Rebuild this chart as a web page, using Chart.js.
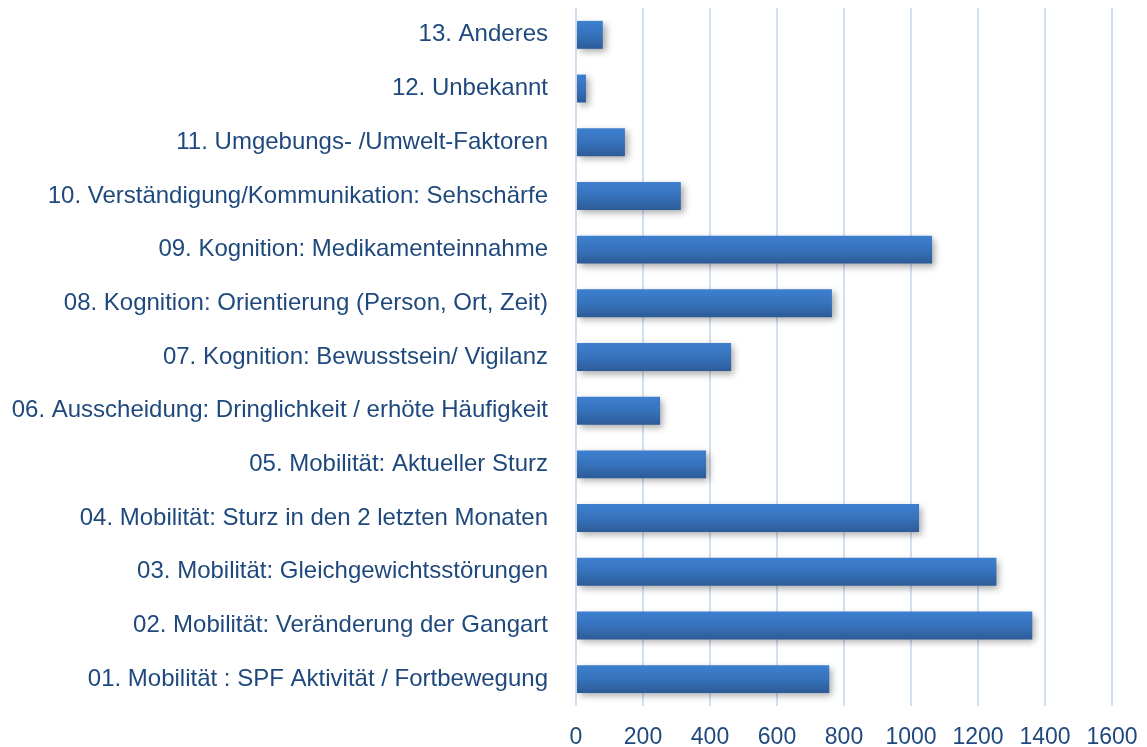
<!DOCTYPE html>
<html>
<head>
<meta charset="utf-8">
<script src="https://cdn.jsdelivr.net/npm/chart.js@4"></script>
<style>
  html, body { margin: 0; padding: 0; background: #fff; }
  #wrap { width: 1147px; height: 747px; }
</style>
</head>
<body>
<div id="wrap"><canvas id="myChart"></canvas></div>
<script>
// categories, top to bottom as shown
const categories = [
  '13. Anderes',
  '12. Unbekannt',
  '11. Umgebungs- /Umwelt-Faktoren',
  '10. Verständigung/Kommunikation: Sehschärfe',
  '09. Kognition: Medikamenteinnahme',
  '08. Kognition: Orientierung (Person, Ort, Zeit)',
  '07. Kognition: Bewusstsein/ Vigilanz',
  '06. Ausscheidung: Dringlichkeit / erhöte Häufigkeit',
  '05. Mobilität: Aktueller Sturz',
  '04. Mobilität: Sturz in den 2 letzten Monaten',
  '03. Mobilität: Gleichgewichtsstörungen',
  '02. Mobilität: Veränderung der Gangart',
  '01. Mobilität : SPF Aktivität / Fortbewegung'
];
const counts = [80, 30, 146, 313, 1063, 764, 463, 251, 388, 1024, 1255, 1362, 756];
const xTicks = [0, 200, 400, 600, 800, 1000, 1200, 1400, 1600];

const textColor = '#1F497D';
const gridColor = '#D3E0F1';

// vertical gradient for each bar
function barFill(c) {
  const chart = c.chart;
  const area = chart.chartArea;
  if (!area) return '#3A78C2';
  const yScale = chart.scales.y;
  const y = yScale.getPixelForValue(c.dataIndex);
  const half = (yScale.height / categories.length) * 0.52 / 2;
  const g = chart.ctx.createLinearGradient(0, y - half, 0, y + half);
  g.addColorStop(0, '#3D80D0');
  g.addColorStop(0.5, '#3772BB');
  g.addColorStop(1, '#2C5B98');
  return g;
}

// soft drop shadow under the bars
const barShadow = {
  id: 'barShadow',
  beforeDatasetsDraw(chart) {
    const ctx = chart.ctx;
    ctx.save();
    ctx.shadowColor = 'rgba(0,0,0,0.35)';
    ctx.shadowBlur = 7;
    ctx.shadowOffsetX = 3;
    ctx.shadowOffsetY = 3;
  },
  afterDatasetsDraw(chart) {
    chart.ctx.restore();
  }
};

new Chart(document.getElementById('myChart'), {
  type: 'bar',
  data: {
    labels: categories,
    datasets: [{
      data: counts,
      backgroundColor: barFill,
      borderWidth: 0,
      categoryPercentage: 1,
      barPercentage: 0.52
    }]
  },
  options: {
    indexAxis: 'y',
    responsive: true,
    maintainAspectRatio: false,
    animation: false,
    layout: { autoPadding: false, padding: { top: 8, right: 35, bottom: 0, left: 0 } },
    plugins: {
      legend: { display: false },
      tooltip: { enabled: false }
    },
    scales: {
      x: {
        min: 0,
        max: 1600,
        afterBuildTicks: (scale) => { scale.ticks = xTicks.map(v => ({ value: v })); },
        afterFit: (scale) => {
          scale.height = 41;
          scale.paddingLeft = 0;
          scale.paddingRight = 0;
        },
        grid: { color: gridColor, lineWidth: 2, drawTicks: false },
        border: { display: false },
        ticks: {
          color: textColor,
          padding: 18,
          maxRotation: 0,
          callback: (v) => String(v),
          font: { family: 'Liberation Sans, Arial, sans-serif', size: 23 }
        }
      },
      y: {
        afterFit: (scale) => {
          scale.width = 576;
          scale.paddingTop = 0;
          scale.paddingBottom = 0;
        },
        grid: { display: false },
        border: { display: false },
        ticks: {
          color: textColor,
          padding: 20,
          font: { family: 'Liberation Sans, Arial, sans-serif', size: 24 }
        }
      }
    }
  },
  plugins: [barShadow]
});
</script>
</body>
</html>
